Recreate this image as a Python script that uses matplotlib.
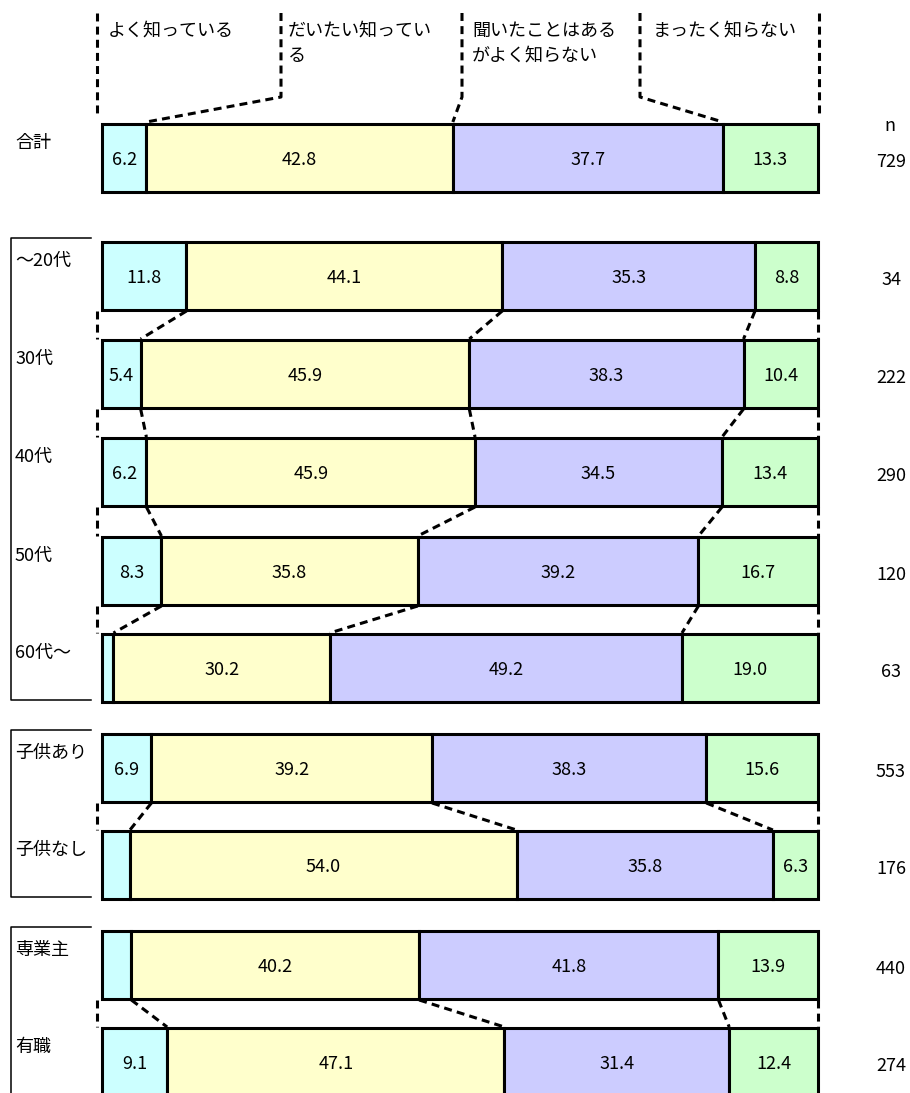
import matplotlib
matplotlib.use("Agg")
import matplotlib.pyplot as plt
import numpy as np

plt.rcParams['font.family'] = ['Noto Sans CJK JP', 'DejaVu Sans']

# ---- data ----
categories = ["合計", "～20代", "30代", "40代", "50代", "60代～", "子供あり", "子供なし", "専業主", "有職"]
well_known = [6.2, 11.8, 5.4, 6.2, 8.3, 1.6, 6.9, 3.9, 4.1, 9.1]
mostly_known = [42.8, 44.1, 45.9, 45.9, 35.8, 30.2, 39.2, 54.0, 40.2, 47.1]
heard_only = [37.7, 35.3, 38.3, 34.5, 39.2, 49.2, 38.3, 35.8, 41.8, 31.4]
not_known = [13.3, 8.8, 10.4, 13.4, 16.7, 19.0, 15.6, 6.3, 13.9, 12.4]
n_values = [729, 34, 222, 290, 120, 63, 553, 176, 440, 274]
series_labels = ["よく知っている", "だいたい知ってい\nる", "聞いたことはある\nがよく知らない", "まったく知らない"]
groups = [[0], [1, 2, 3, 4, 5], [6, 7], [8, 9]]

# ---- layout (pixel based) ----
W, H = 910, 1093
bar_left_px, bar_right_px = 102, 818
ppu = (bar_right_px - bar_left_px) / 100.0
bar_tops = [124, 242, 340, 438, 537, 634, 734, 831, 931, 1028]
bar_h = 68
colors = ["#CCFFFF", "#FFFFCC", "#CCCCFF", "#CCFFCC"]
edge_lw = 2.2
dash = (0, (2.6, 1.7))
fs = 13

fig = plt.figure(figsize=(W / 100, H / 100), dpi=100)
ax = fig.add_axes([0, 0, 1, 1])
ax.set_xlim(-bar_left_px / ppu, (W - bar_left_px) / ppu)
ax.set_ylim(H, 0)
ax.axis("off")

series = [well_known, mostly_known, heard_only, not_known]
data = np.array(series).T  # rows x 4
cum = np.cumsum(data, axis=1)
starts = cum - data
centers = [t + bar_h / 2 for t in bar_tops]

for k in range(4):
    ax.barh(centers, data[:, k], left=starts[:, k], height=bar_h,
            color=colors[k], edgecolor="black", linewidth=edge_lw, zorder=3)
    for i in range(len(categories)):
        v = data[i, k]
        if v >= 5:
            ax.text(starts[i, k] + v / 2, centers[i] + 2, f"{v:.1f}",
                    ha="center", va="center", fontsize=fs, zorder=4)

# row labels
for i, c in enumerate(categories):
    ax.text(-87 / ppu, bar_tops[i] + 19, c, ha="left", va="center", fontsize=fs)

# n column
ax.text((890 - bar_left_px) / ppu, 126, "n", ha="center", va="center", fontsize=fs)
for i, n in enumerate(n_values):
    ax.text((891 - bar_left_px) / ppu, centers[i] + 4, str(n), ha="center",
            va="center", fontsize=fs)

left_off = -5 / ppu
# connectors between bars within groups
for g in groups:
    for a, b in zip(g[:-1], g[1:]):
        ya = bar_tops[a] + bar_h
        yb = bar_tops[b]
        xs_a = [left_off] + list(cum[a, :3]) + [100]
        xs_b = [left_off] + list(cum[b, :3]) + [100]
        for xa, xb in zip(xs_a, xs_b):
            ax.plot([xa, xb], [ya + 1, yb - 1], color="black", lw=2.2,
                    linestyle=dash, zorder=2, solid_capstyle="butt")

# group brackets
for g in groups[1:]:
    top = bar_tops[g[0]] - 4
    bot = bar_tops[g[-1]] + bar_h - 2
    xl, xr = -91 / ppu, -11 / ppu
    if bot > H:
        ax.plot([xr, xl, xl], [top, top, H + 5], color="black", lw=1.1)
    else:
        ax.plot([xr, xl, xl, xr], [top, top, bot, bot], color="black", lw=1.1)

# header legend
div_px = [97, 281, 462, 640, 819]
divs = [(p - bar_left_px) / ppu for p in div_px]
top_bounds = [left_off] + list(cum[0, :3]) + [100]
for j, d in enumerate(divs):
    if j in (0, 4):
        ax.plot([d, d], [13, 116], color="black", lw=2.2, linestyle=dash)
    else:
        ax.plot([d, d, top_bounds[j]], [13, 97, 122], color="black", lw=2.2,
                linestyle=dash)
text_px = [108, 288, 472, 653]
for j, lab in enumerate(series_labels):
    ax.text((text_px[j] - bar_left_px) / ppu, 22, lab, ha="left", va="top",
            fontsize=fs, linespacing=1.5)

fig.savefig("out.png", dpi=100)
